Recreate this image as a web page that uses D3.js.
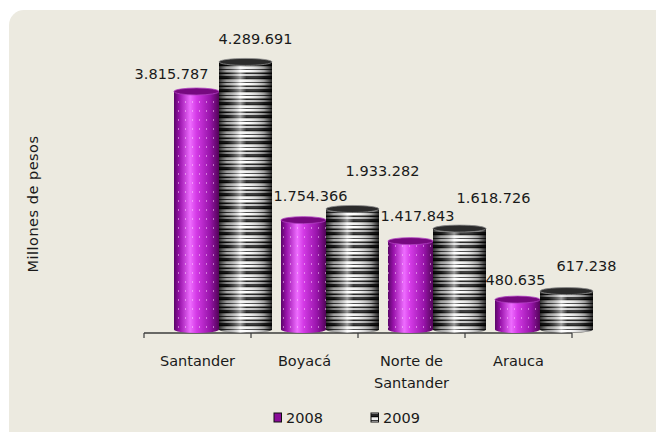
<!DOCTYPE html>
<html>
<head>
<meta charset="utf-8">
<script src="https://cdn.jsdelivr.net/npm/d3@7"></script>
<style>
  html, body { margin: 0; padding: 0; background: #ffffff; }
  svg { display: block; }
  text { font-family: "DejaVu Sans", Verdana, sans-serif; fill: #1a1a1a; }
</style>
</head>
<body>
<div id="chart"></div>
<script>
// chart data
const aCategory = [["Santander"], ["Boyacá"], ["Norte de", "Santander"], ["Arauca"]];
const aSeriesName = ["2008", "2009"];
const a2008 = [3815787, 1754366, 1417843, 480635];
const a2009 = [4289691, 1933282, 1618726, 617238];

// label placement relative to top of each cylinder (Excel moved them around)
const aLabelDx = [[-25, 10], [7, 30], [7, 34], [-2, 20]];
const aLabelDy = [[-18, -23], [-25, -38], [-26, -31], [-20, -26]];

const iWidth = 656, iHeight = 432;
const fmt = v => d3.format(",")(v).replace(/,/g, ".");

const d3Svg = d3.select("#chart").append("svg")
    .attr("width", iWidth)
    .attr("height", iHeight);

const defs = d3Svg.append("defs");

// purple body: horizontal shading
let g1 = defs.append("linearGradient").attr("id", "gPurple").attr("x1", 0).attr("x2", 1).attr("y1", 0).attr("y2", 0);
[[0, "#5a0468"], [0.12, "#9812aa"], [0.36, "#ee6cff"], [0.5, "#d43ae6"], [0.8, "#9814aa"], [1, "#520458"]]
    .forEach(s => g1.append("stop").attr("offset", s[0]).attr("stop-color", s[1]));

// purple dots
const pDot = defs.append("pattern").attr("id", "pDots").attr("patternUnits", "userSpaceOnUse")
    .attr("width", 7).attr("height", 9);
pDot.append("rect").attr("x", 3).attr("y", 2).attr("width", 1).attr("height", 2).attr("fill", "#ffd0ff").attr("opacity", 0.5);

// striped body
const pStripe = defs.append("pattern").attr("id", "pStripe").attr("patternUnits", "userSpaceOnUse")
    .attr("width", 60).attr("height", 13);
[[0, 1.5, "#0a0a0a"], [1.5, 2.5, "#f0f0f0"], [4, 1, "#3a3a3a"], [5, 2.5, "#ffffff"], [7.5, 1.5, "#111"], [9, 2, "#cfcfcf"], [11, 2, "#262626"]]
    .forEach(s => pStripe.append("rect").attr("x", 0).attr("y", s[0]).attr("width", 60).attr("height", s[1]).attr("fill", s[2]));

let g2 = defs.append("linearGradient").attr("id", "gShade").attr("x1", 0).attr("x2", 1).attr("y1", 0).attr("y2", 0);
[[0, "#000", 0.8], [0.15, "#000", 0.35], [0.4, "#fff", 0.55], [0.52, "#fff", 0.1], [0.85, "#000", 0.35], [1, "#000", 0.85]]
    .forEach(s => g2.append("stop").attr("offset", s[0]).attr("stop-color", s[1]).attr("stop-opacity", s[2]));

// background panel
d3Svg.append("rect")
    .attr("x", 9).attr("y", 10)
    .attr("width", 670).attr("height", 450)
    .attr("rx", 15)
    .attr("fill", "#eceae0");

// scales
const iBase = 329.6;
const d3X = d3.scaleBand().domain(d3.range(aCategory.length)).range([144, 572]).padding(0);
const d3Y = d3.scaleLinear().domain([0, 4500000]).range([iBase, iBase - 4.5 * 62.4]);

// axis line and ticks
const gAxis = d3Svg.append("g");
gAxis.append("line").attr("x1", d3X.range()[0]).attr("x2", d3X.range()[1])
    .attr("y1", 333).attr("y2", 333).attr("stroke", "#3c3c3c").attr("stroke-width", 1.5);
gAxis.selectAll("line.tick").data(d3.range(aCategory.length + 1)).enter()
    .append("line").attr("class", "tick")
    .attr("x1", i => 144 + i * d3X.step()).attr("x2", i => 144 + i * d3X.step())
    .attr("y1", 333).attr("y2", 338).attr("stroke", "#3c3c3c").attr("stroke-width", 1.2);

const ry = 3.5;
const aSeries = [
    { name: aSeriesName[0], values: a2008, off: 30, w: 45, body: "url(#gPurple)", top: "#76097f", rim: "#b040c0" },
    { name: aSeriesName[1], values: a2009, off: 75, w: 53, body: "url(#pStripe)", top: "#2b2b2b", rim: "#8a8a8a" }
];

function cylinder(g, x, w, yTop, s, iS) {
    const rx = w / 2;
    const sPath = `M${x},${yTop} L${x},${iBase} A${rx},${ry} 0 0 0 ${x + w},${iBase} L${x + w},${yTop} Z`;
    g.append("path").attr("d", sPath).attr("fill", s.body);
    if (iS === 0)
        g.append("path").attr("d", sPath).attr("fill", "url(#pDots)");
    else
        g.append("path").attr("d", sPath).attr("fill", "url(#gShade)");
    g.append("ellipse").attr("cx", x + rx).attr("cy", yTop).attr("rx", rx).attr("ry", ry)
        .attr("fill", s.top).attr("stroke", s.rim).attr("stroke-width", 0.8);
}

const gBars = d3Svg.append("g");
aCategory.forEach((c, i) => {
    aSeries.forEach((s, iS) => {
        const x = d3X(i) + s.off;
        cylinder(gBars, x, s.w, d3Y(s.values[i]), s, iS);
    });
});

// value labels
const gLabel = d3Svg.append("g");
aCategory.forEach((c, i) => {
    aSeries.forEach((s, iS) => {
        const x = d3X(i) + s.off + s.w / 2 + aLabelDx[i][iS];
        const y = d3Y(s.values[i]) + aLabelDy[i][iS];
        gLabel.append("text")
            .attr("x", x).attr("y", y + 5.5)
            .attr("text-anchor", "middle")
            .attr("font-size", "14.5px")
            .text(fmt(s.values[i]));
    });
});

// category labels
const gCat = d3Svg.append("g");
aCategory.forEach((c, i) => {
    const t = gCat.append("text")
        .attr("x", d3X(i) + d3X.bandwidth() / 2)
        .attr("y", 366)
        .attr("text-anchor", "middle")
        .attr("font-size", "14.5px");
    c.forEach((sLine, k) => {
        t.append("tspan").attr("x", d3X(i) + d3X.bandwidth() / 2).attr("dy", k === 0 ? 0 : 21.5).text(sLine);
    });
});

// y title
d3Svg.append("text")
    .attr("transform", "translate(38,204) rotate(-90)")
    .attr("text-anchor", "middle")
    .attr("font-size", "14.5px")
    .attr("letter-spacing", "0.5px")
    .text("Millones de pesos");

// legend
const gLegend = d3Svg.append("g");
const aLegendX = [274, 371];
aSeries.forEach((s, iS) => {
    const x = aLegendX[iS];
    gLegend.append("rect").attr("x", x).attr("y", 413).attr("width", 7.5).attr("height", 9)
        .attr("fill", iS === 0 ? "#8a0c99" : "url(#pStripe)")
        .attr("stroke", "#111").attr("stroke-width", 1);
    gLegend.append("text").attr("x", x + 12).attr("y", 422.5)
        .attr("font-size", "14.5px").text(s.name);
});
</script>
</body>
</html>
